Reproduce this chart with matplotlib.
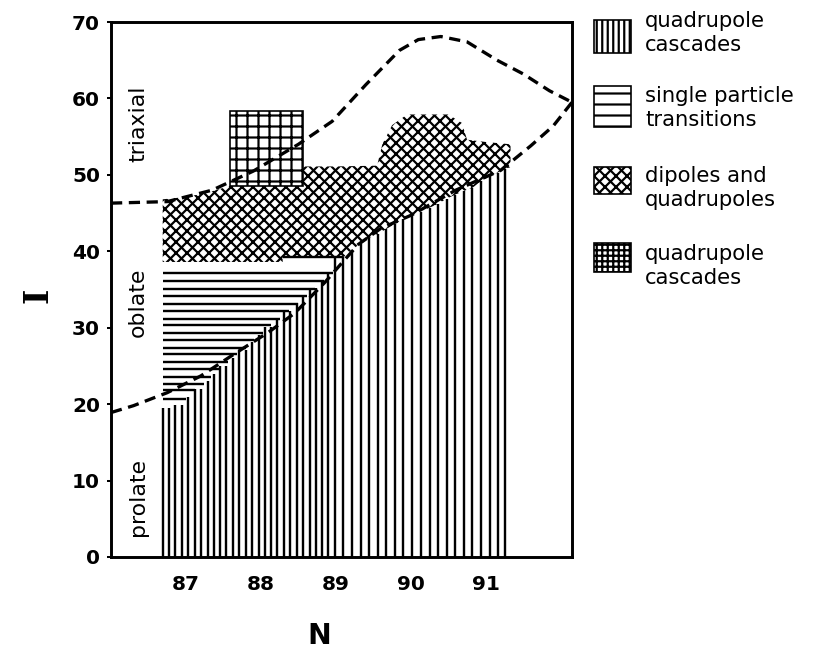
import matplotlib
matplotlib.use("Agg")
import matplotlib.pyplot as plt
from matplotlib.patches import Polygon, Rectangle

# figure is drawn at 66 dpi so that the hatch cells come out ~11 px like the scan
DPI = 66
plt.rcParams["font.family"] = ["DejaVu Sans"]
plt.rcParams["hatch.linewidth"] = 2.4
plt.rcParams["hatch.color"] = "black"

# vertical lines (quadrupole cascades): position N and top I
vert_N = [86.69, 86.78, 86.86, 86.95, 87.03, 87.12, 87.20, 87.29, 87.37, 87.46,
          87.54, 87.63, 87.71, 87.80, 87.88, 87.97, 88.05, 88.14, 88.22, 88.31,
          88.39, 88.48, 88.56, 88.65, 88.73, 88.82, 88.90, 88.99,
          89.10, 89.21, 89.33, 89.44, 89.56, 89.67, 89.79, 89.90, 90.02, 90.13,
          90.25, 90.36, 90.48, 90.59, 90.71, 90.82, 90.94, 91.05, 91.16, 91.26]
vert_top = [19.5, 19.5, 19.9, 19.9, 20.9, 22.0, 22.0, 23.0, 24.0, 25.0,
            25.0, 26.1, 27.1, 27.1, 28.1, 29.1, 30.1, 30.1, 31.2, 32.2,
            32.2, 33.2, 34.2, 35.2, 35.2, 36.2, 37.2, 39.2,
            39.2, 40.2, 41.0, 41.7, 42.3, 42.9, 43.6, 44.2, 44.7, 45.2,
            45.7, 46.2, 46.9, 47.4, 47.9, 48.3, 49.2, 49.8, 50.3, 50.8]

# horizontal lines (single particle transitions): level I, start N, end N
horiz_I = [20.7, 21.8, 22.7, 23.6, 24.6, 25.5, 26.5, 27.4, 28.4, 29.3,
           30.3, 31.2, 32.2, 33.1, 34.1, 35.1, 36.1, 37.2, 39.2]
horiz_start = [86.69] * 18 + [88.29]
horiz_end = [87.00, 87.12, 87.24, 87.33, 87.45, 87.56, 87.68, 87.80, 87.91, 88.03,
             88.14, 88.26, 88.38, 88.49, 88.61, 88.72, 88.84, 88.96, 89.10]

# dipoles and quadrupoles (cross-hatched region outline)
cross_N = [86.69, 86.69, 87.0, 87.3, 87.6, 88.0, 88.3, 88.56, 89.0, 89.55, 89.62,
           89.75, 89.95, 90.5, 90.68, 90.75, 91.0, 91.33, 91.33, 91.26, 91.16,
           91.05, 90.94, 90.82, 90.71, 90.59, 90.48, 90.36, 90.25, 90.13, 90.02,
           89.90, 89.79, 89.67, 89.56, 89.44, 89.33, 89.21, 89.10, 88.29, 88.29]
cross_I = [38.6, 46.8, 47.1, 47.7, 48.6, 49.0, 50.3, 51.1, 51.1, 51.2, 54.0,
           56.5, 57.9, 57.9, 56.8, 54.6, 54.3, 54.0, 51.0, 50.8, 50.3,
           49.8, 49.2, 48.3, 47.9, 47.4, 46.9, 46.2, 45.7, 45.2, 44.7,
           44.2, 43.6, 42.9, 42.3, 41.7, 41.0, 40.2, 39.2, 39.2, 38.6]

# quadrupole cascades (grid box)
grid_N = (87.59, 88.56)
grid_I = (48.5, 58.4)

# phase boundaries (dashed)
upper_N = [86.0, 86.75, 87.35, 87.9, 88.5, 88.95, 89.4, 89.85, 90.1, 90.4,
           90.75, 91.15, 91.5, 91.85, 92.15]
upper_I = [46.3, 46.5, 48.0, 50.5, 54.0, 57.0, 61.8, 66.3, 67.7, 68.1,
           67.4, 65.0, 63.2, 61.0, 59.5]
lower_N = [86.0, 86.3, 86.75, 87.2, 87.65, 88.1, 88.45, 88.85, 89.1, 89.3,
           89.6, 90.0, 90.6, 91.2, 91.6, 91.9, 92.15]
lower_I = [18.9, 19.8, 21.5, 23.7, 26.6, 29.4, 31.9, 35.9, 38.7, 40.9,
           43.0, 44.7, 48.0, 50.6, 53.8, 56.4, 59.5]

yticks = [0, 10, 20, 30, 40, 50, 60, 70]
xticks = [87, 88, 89, 90, 91]
regions = ["triaxial", "oblate", "prolate"]
region_I = [56.7, 33.3, 7.8]

legend_labels = ["quadrupole\ncascades", "single particle\ntransitions",
                 "dipoles and\nquadrupoles", "quadrupole\ncascades"]
legend_hatch = ["||", "-", "xx", "++"]

fig = plt.figure(figsize=(820 / DPI, 653 / DPI), dpi=DPI)
ax = fig.add_axes([111 / 820, 1 - 557 / 653, 461 / 820, 535 / 653])
ax.set_xlim(86.0, 92.15)
ax.set_ylim(0, 70)

ax.vlines(vert_N, 0, vert_top, color="black", lw=2.6, zorder=2)
ax.hlines(horiz_I, horiz_start, horiz_end, color="black", lw=2.6, zorder=2)

ax.add_patch(Polygon(list(zip(cross_N, cross_I)), closed=True, facecolor="none",
                     edgecolor="black", lw=0, hatch="xx", zorder=2))
ax.add_patch(Rectangle((grid_N[0], grid_I[0]), grid_N[1] - grid_N[0],
                       grid_I[1] - grid_I[0], facecolor="white", edgecolor="black",
                       lw=1.8, hatch="+", zorder=3))

ax.plot(upper_N, upper_I, color="black", lw=3.6, dashes=(3.4, 2.0), zorder=4,
        dash_capstyle="butt")
ax.plot(lower_N, lower_I, color="black", lw=3.6, dashes=(3.4, 2.0), zorder=4,
        dash_capstyle="butt")

for name, yi in zip(regions, region_I):
    ax.text(86.36, yi, name, rotation=90, ha="center", va="center", fontsize=24)

for s in ax.spines.values():
    s.set_linewidth(3.2)
ax.set_yticks(yticks)
ax.set_xticks(xticks)
ax.tick_params(axis="y", direction="out", length=4, width=2.2, pad=8, labelsize=22)
ax.tick_params(axis="x", length=0, pad=20, labelsize=22)
for lab in ax.get_xticklabels() + ax.get_yticklabels():
    lab.set_fontweight("bold")

# overlay in pixel units for labels and the key
ov = fig.add_axes([0, 0, 1, 1])
ov.set_xlim(0, 820)
ov.set_ylim(653, 0)
ov.axis("off")
ov.patch.set_visible(False)

ov.text(38, 295, "I", rotation=90, ha="center", va="center", fontsize=36,
        fontweight="bold", family="DejaVu Serif")
ov.text(319, 636, "N", ha="center", va="center", fontsize=31, fontweight="bold")

box_y = [20, 86, 167, 243]
box_h = [33, 41, 27, 29]
text_y = [33, 108, 188, 266]
for lab, h, by, bh, ty in zip(legend_labels, legend_hatch, box_y, box_h, text_y):
    ov.add_patch(Rectangle((594, by), 37, bh, facecolor="white", edgecolor="black",
                           lw=1.8, hatch=h))
    ov.text(645, ty, lab, ha="left", va="center", fontsize=23, linespacing=1.2)

fig.savefig("out.png", dpi=DPI)
